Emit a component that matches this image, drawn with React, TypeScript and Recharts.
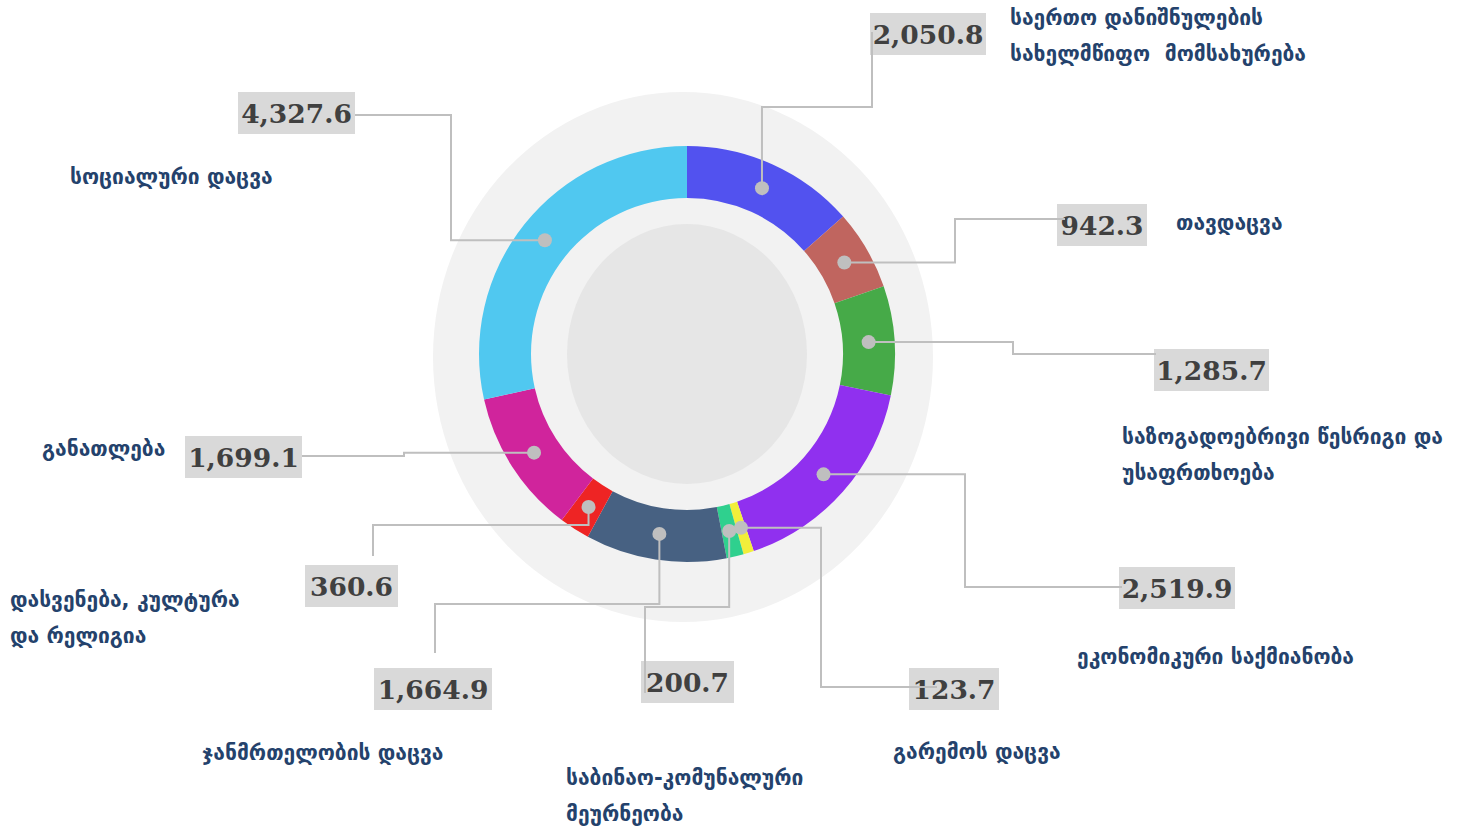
import { PieChart, Pie, Cell } from "recharts";

// budget by function, clockwise from 12 o'clock
const values = [2050.8, 942.3, 1285.7, 2519.9, 123.7, 200.7, 1664.9, 360.6, 1699.1, 4327.6];

const categoryLines: string[][] = [
  ["საერთო დანიშნულების", "სახელმწიფო  მომსახურება"],
  ["თავდაცვა"],
  ["საზოგადოებრივი წესრიგი და", "უსაფრთხოება"],
  ["ეკონომიკური საქმიანობა"],
  ["გარემოს დაცვა"],
  ["საბინაო-კომუნალური", "მეურნეობა"],
  ["ჯანმრთელობის დაცვა"],
  ["დასვენება, კულტურა", "და რელიგია"],
  ["განათლება"],
  ["სოციალური დაცვა"],
];

const COLORS = [
  "#5252ef", "#c0655f", "#46aa48", "#9030ef", "#f2ee3a",
  "#2fd08e", "#476182", "#ee2424", "#d0249c", "#50c8f0",
];

// label layout: leader route, elbow coordinate, line end, box [x, y, w], text [x, baseline]
type LabelLayout = {
  route: "hvh" | "vhv";
  mid: number;
  end: [number, number];
  box: [number, number, number];
  text: [number, number];
};

const LAYOUT: LabelLayout[] = [
  { route: "vhv", mid: 107, end: [872, 32], box: [870, 13, 116], text: [1010, 25] },
  { route: "hvh", mid: 955, end: [1065, 219], box: [1057, 204, 90], text: [1176, 230] },
  { route: "hvh", mid: 1013, end: [1156, 354], box: [1154, 349, 115], text: [1122, 444] },
  { route: "hvh", mid: 965, end: [1122, 587], box: [1119, 567, 116], text: [1077, 664] },
  { route: "hvh", mid: 821, end: [937, 687], box: [909, 668, 90], text: [893, 759] },
  { route: "vhv", mid: 607, end: [645, 693], box: [641, 661, 93], text: [566, 785] },
  { route: "vhv", mid: 604, end: [435, 653], box: [374, 668, 118], text: [202, 760] },
  { route: "vhv", mid: 525, end: [373, 556], box: [305, 565, 93], text: [10, 607] },
  { route: "hvh", mid: 404, end: [302, 456], box: [185, 436, 117], text: [42, 456] },
  { route: "hvh", mid: 451, end: [355, 115], box: [238, 92, 117], text: [70, 184] },
];

const data = values.map((v, i) => ({ name: categoryLines[i].join(" "), value: v }));

const RAD = Math.PI / 180;
const GREY = "#bfbfbf";
const GEO_FONT = "'DejaVu Sans', sans-serif";
const NUM_FONT = "'DejaVu Serif', serif";

const fmt = (v: number) =>
  v.toLocaleString("en-US", { minimumFractionDigits: 1, maximumFractionDigits: 1 });

const renderLabel = (props: any) => {
  const { cx, cy, midAngle, innerRadius, outerRadius, index, value } = props;
  const lay = LAYOUT[index];
  const r = (innerRadius + outerRadius) / 2;
  const x = cx + r * Math.cos(-midAngle * RAD);
  const y = cy + r * Math.sin(-midAngle * RAD);
  const [ex, ey] = lay.end;
  const pts =
    lay.route === "hvh"
      ? [[x, y], [lay.mid, y], [lay.mid, ey], [ex, ey]]
      : [[x, y], [x, lay.mid], [ex, lay.mid], [ex, ey]];
  const [bx, by, bw] = lay.box;
  const [tx, ty] = lay.text;
  return (
    <g key={`lbl-${index}`}>
      <rect x={bx} y={by} width={bw} height={42} fill="#d9d9d9" />
      <text
        x={bx + bw / 2}
        y={by + 31}
        textAnchor="middle"
        fontFamily={NUM_FONT}
        fontWeight="bold"
        fontSize={26.5}
        fill="#404040"
      >
        {fmt(value)}
      </text>
      <polyline points={pts.map((p) => p.join(",")).join(" ")} fill="none" stroke={GREY} strokeWidth={2} />
      <circle cx={x} cy={y} r={7} fill={GREY} />
      {categoryLines[index].map((line, li) => (
        <text
          key={li}
          x={tx}
          y={ty + li * 36}
          fontFamily={GEO_FONT}
          fontWeight="bold"
          fontSize={21}
          fill="#24426c"
          style={{ whiteSpace: "pre" }}
        >
          {line}
        </text>
      ))}
    </g>
  );
};

export default function App() {
  return (
    <div style={{ position: "absolute", left: 0, top: 0, width: 1465, height: 828, background: "#fff" }}>
      {/* backdrop behind the donut */}
      <svg width={1465} height={828} style={{ position: "absolute", left: 0, top: 0 }}>
        <ellipse cx={683} cy={357} rx={250} ry={265} fill="#f2f2f2" />
        <ellipse cx={687} cy={354} rx={120} ry={130} fill="#e6e6e6" />
      </svg>
      <div style={{ position: "absolute", left: 0, top: 0 }}>
        <PieChart width={1465} height={828} margin={{ top: 0, right: 0, bottom: 0, left: 0 }}>
          <Pie
            data={data}
            dataKey="value"
            cx={687}
            cy={354}
            innerRadius={156}
            outerRadius={208}
            startAngle={90}
            endAngle={-270}
            stroke="none"
            label={renderLabel}
            labelLine={false}
            isAnimationActive={false}
          >
            {data.map((_, i) => (
              <Cell key={i} fill={COLORS[i]} />
            ))}
          </Pie>
        </PieChart>
      </div>
    </div>
  );
}
